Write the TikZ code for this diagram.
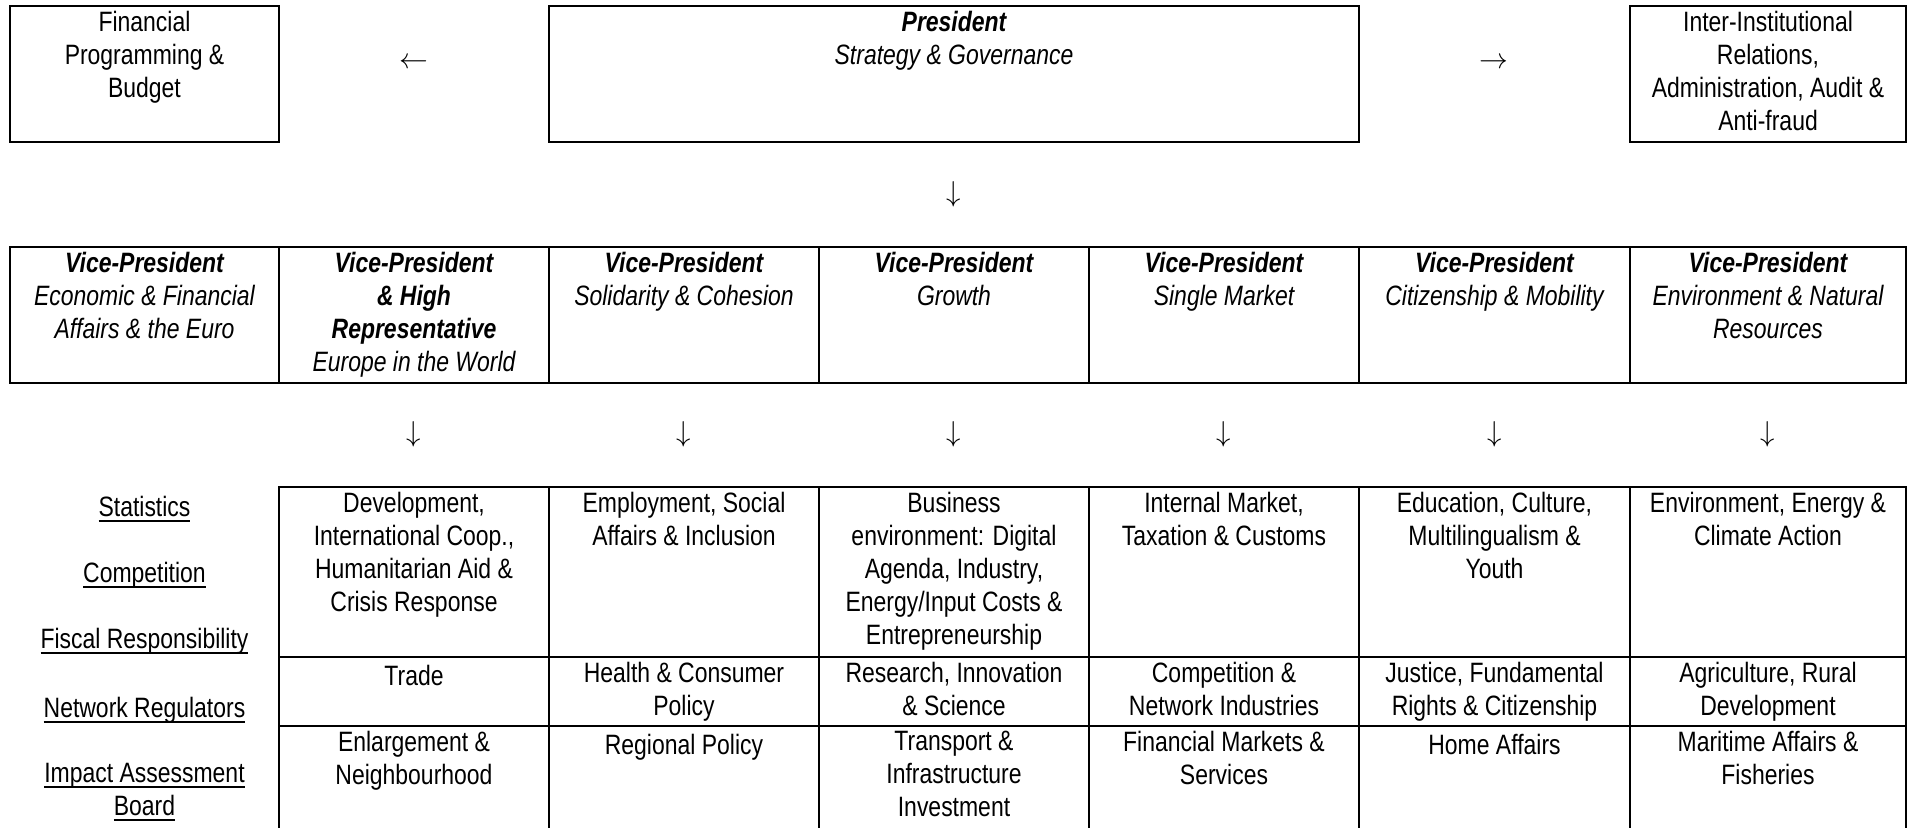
\documentclass[tikz,border=0pt]{standalone}
\usepackage{fontspec}
\setmainfont{Liberation Sans}[FakeStretch=0.82]
\usepackage{tikz}
\newcommand{\cellfont}{\fontsize{14pt}{16.5pt}\selectfont}
\newcommand{\topstrut}{\rule{0pt}{12pt}}
\newcommand{\ulbox}[1]{\setbox0\hbox{#1}\rlap{\rule[-2.6pt]{\wd0}{1pt}}\box0}

\begin{document}
\begin{tikzpicture}[x=0.5pt,y=-0.5pt,
  box/.style={line width=1.3pt},
  cell/.style={anchor=north, align=center, inner sep=0pt, font=\cellfont, execute at begin node=\topstrut},
  vpcell/.style={cell, font=\cellfont\itshape},
  glyph/.style={inner sep=0pt, font=\cellfont}]
\useasboundingbox (0,0) rectangle (1910,827);
% top row
\draw [box] (10,6) rectangle (279,142);
\draw [box] (549,6) rectangle (1359,142);
\draw [box] (1630,6) rectangle (1906,142);
\node [cell] (fin) at (144.5,10.5) {Financial\\Programming \&\\Budget};
\node [vpcell] (pres) at (954,10.5) {\textbf{President}\\Strategy \& Governance};
\node [cell] (inter) at (1768,10.5) {Inter-Institutional\\Relations,\\Administration, Audit \&\\Anti-fraud};
\node [glyph] (arrL) at (414,63) {$\leftarrow$};
\node [glyph] (arrR) at (1494,63) {$\rightarrow$};
\node [glyph] (arrD) at (954,194) {$\downarrow$};
% vice-presidents
\draw [box] (10,247) rectangle (1906,383);
\draw [box] (279,247) -- (279,383);
\draw [box] (549,247) -- (549,383);
\draw [box] (819,247) -- (819,383);
\draw [box] (1089,247) -- (1089,383);
\draw [box] (1359,247) -- (1359,383);
\draw [box] (1630,247) -- (1630,383);
\node [vpcell] (vpecon) at (144.5,251.5) {\textbf{Vice-President}\\Economic \& Financial\\Affairs \& the Euro};
\node [vpcell] (vphr) at (414,251.5) {\textbf{Vice-President}\\\textbf{\& High}\\\textbf{Representative}\\Europe in the World};
\node [vpcell] (vpsoli) at (684,251.5) {\textbf{Vice-President}\\Solidarity \& Cohesion};
\node [vpcell] (vpgrow) at (954,251.5) {\textbf{Vice-President}\\Growth};
\node [vpcell] (vpsing) at (1224,251.5) {\textbf{Vice-President}\\Single Market};
\node [vpcell] (vpciti) at (1494.5,251.5) {\textbf{Vice-President}\\Citizenship \& Mobility};
\node [vpcell] (vpenvi) at (1768,251.5) {\textbf{Vice-President}\\Environment \& Natural\\Resources};
\node [glyph] (dhr) at (414,434) {$\downarrow$};
\node [glyph] (dsoli) at (684,434) {$\downarrow$};
\node [glyph] (dgrow) at (954,434) {$\downarrow$};
\node [glyph] (dsing) at (1224,434) {$\downarrow$};
\node [glyph] (dciti) at (1494.5,434) {$\downarrow$};
\node [glyph] (denvi) at (1768,434) {$\downarrow$};
% services
\node [cell] (stat) at (144.5,492) {\ulbox{Statistics}};
\node [cell] (comp) at (144.5,558) {\ulbox{Competition}};
\node [cell] (fisc) at (144.5,624) {\ulbox{Fiscal Responsibility}};
\node [cell] (netw) at (144.5,693) {\ulbox{Network Regulators}};
\node [cell] (iab) at (144.5,763) {\ulbox{Impact Assessment}\\\ulbox{Board}};
% portfolios
\draw [box] (279,487) rectangle (1906,840);
\draw [box] (279,657) -- (1906,657);
\draw [box] (279,726) -- (1906,726);
\draw [box] (549,487) -- (549,840);
\draw [box] (819,487) -- (819,840);
\draw [box] (1089,487) -- (1089,840);
\draw [box] (1359,487) -- (1359,840);
\draw [box] (1630,487) -- (1630,840);
\node [cell] (devt) at (414,491.5) {Development,\\International Coop.,\\Humanitarian Aid \&\\Crisis Response};
\node [cell] (empl) at (684,491.5) {Employment, Social\\Affairs \& Inclusion};
\node [cell] (busi) at (954,491.5) {Business\\environment: Digital\\Agenda, Industry,\\Energy/Input Costs \&\\Entrepreneurship};
\node [cell] (intm) at (1224,491.5) {Internal Market,\\Taxation \& Customs};
\node [cell] (educ) at (1494.5,491.5) {Education, Culture,\\Multilingualism \&\\Youth};
\node [cell] (envi) at (1768,491.5) {Environment, Energy \&\\Climate Action};
\node [cell] (trad) at (414,661.5) {Trade};
\node [cell] (hlth) at (684,661.5) {Health \& Consumer\\Policy};
\node [cell] (rsch) at (954,661.5) {Research, Innovation\\\& Science};
\node [cell] (cmpn) at (1224,661.5) {Competition \&\\Network Industries};
\node [cell] (jstc) at (1494.5,661.5) {Justice, Fundamental\\Rights \& Citizenship};
\node [cell] (agri) at (1768,661.5) {Agriculture, Rural\\Development};
\node [cell] (enlg) at (414,730.5) {Enlargement \&\\Neighbourhood};
\node [cell] (regp) at (684,730.5) {Regional Policy};
\node [cell] (trns) at (954,730.5) {Transport \&\\Infrastructure\\Investment};
\node [cell] (finm) at (1224,730.5) {Financial Markets \&\\Services};
\node [cell] (home) at (1494.5,730.5) {Home Affairs};
\node [cell] (mari) at (1768,730.5) {Maritime Affairs \&\\Fisheries};
\end{tikzpicture}
\end{document}
